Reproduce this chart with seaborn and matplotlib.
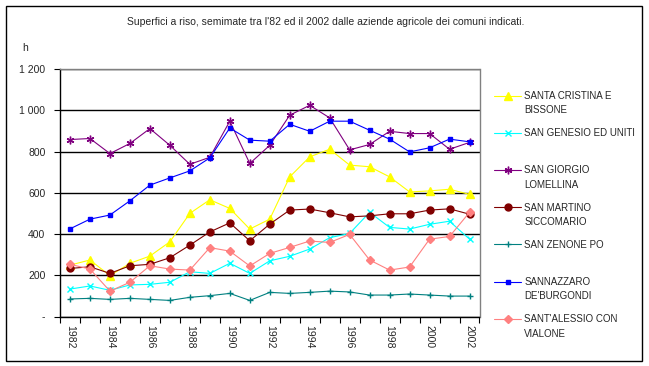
import matplotlib
matplotlib.use("Agg")
import matplotlib.pyplot as plt
import matplotlib.patches as patches
import seaborn as sns
import numpy as np

years = list(range(1982, 2003))

santa_cristina = [249, 274, 198, 258, 293, 362, 500, 566, 524, 424, 472,
                  677, 774, 811, 734, 726, 677, 604, 609, 617, 592]
san_genesio = [133, 148, 127, 153, 156, 166, 217, 209, 258, 209, 270,
               292, 327, 382, 403, 505, 432, 424, 447, 462, 375]
san_giorgio = [858, 863, 790, 839, 911, 830, 738, 772, 947, 742, 830,
               976, 1024, 963, 808, 834, 898, 887, 887, 811, 844]
san_martino = [233, 241, 209, 246, 253, 285, 346, 410, 454, 367, 448,
               516, 521, 503, 483, 488, 498, 498, 516, 522, 496]
san_zenone = [85, 88, 83, 88, 83, 78, 93, 101, 112, 78, 117,
              112, 117, 123, 119, 104, 104, 109, 104, 99, 99]
sannazzaro = [425, 472, 492, 561, 637, 672, 706, 769, 914, 855, 850,
              932, 898, 947, 947, 903, 860, 798, 818, 860, 847]
sant_alessio = [253, 230, 123, 166, 246, 230, 225, 334, 317, 245, 306,
                335, 366, 359, 398, 274, 225, 240, 375, 388, 505]

series = [
    (("SANTA CRISTINA E", "BISSONE"), santa_cristina, "#FFFF00", "^", 5.5),
    (("SAN GENESIO ED UNITI", ""), san_genesio, "#00FFFF", "x", 4),
    (("SAN GIORGIO", "LOMELLINA"), san_giorgio, "#800080", (6, 2, 0), 5.5),
    (("SAN MARTINO", "SICCOMARIO"), san_martino, "#800000", "o", 5),
    (("SAN ZENONE PO", ""), san_zenone, "#008080", "+", 5),
    (("SANNAZZARO", "DE'BURGONDI"), sannazzaro, "#0000FF", "s", 2.3),
    (("SANT'ALESSIO CON", "VIALONE"), sant_alessio, "#FF8080", "D", 4),
]

sns.set_theme(style="white")
plt.rcParams["font.family"] = ["Liberation Sans", "DejaVu Sans"]

W, H = 649, 366
fig = plt.figure(figsize=(W / 100, H / 100), dpi=100)
ax = fig.add_axes([60 / W, 1 - 316.5 / H, 419.5 / W, 247.5 / H])

x = np.arange(len(years))
for (lab, _), vals, color, marker, ms in series:
    sns.lineplot(x=x, y=vals, ax=ax, color=color, marker=marker,
                 markersize=ms, linewidth=0.8, markeredgecolor=color,
                 markeredgewidth=1, label=lab)

handles, _ = ax.get_legend_handles_labels()
ax.get_legend().remove()

ax.set_xlim(-0.5, len(years) - 0.5)
ax.set_ylim(0, 1200)
ax.set_xlabel("")
ax.set_ylabel("")

# x axis: labels every two years, tick marks at category edges
ax.set_xticks(x[::2])
ax.set_xticklabels([str(y) for y in years[::2]], rotation=270,
                   fontsize=7.5, va="top", ha="center")
ax.set_xticks(np.arange(-0.5, len(years)), minor=True)
ax.tick_params(axis="x", which="major", length=0, pad=6)
ax.tick_params(axis="x", which="minor", length=4, width=0.8,
               direction="out", color="black", bottom=True)

yt = np.arange(0, 1201, 200)
ax.set_yticks(yt)
ax.set_yticklabels(["-" if v == 0 else f"{v:,}".replace(",", " ") for v in yt],
                   fontsize=7.5)
ax.tick_params(axis="y", length=4, width=0.8, direction="out",
               color="black", left=True, pad=6.5)

ax.grid(False)
ax.yaxis.grid(True, color="black", linewidth=1)
ax.set_axisbelow(True)
for side in ["left", "bottom"]:
    ax.spines[side].set_color("black")
    ax.spines[side].set_linewidth(1)
for side in ["top", "right"]:
    ax.spines[side].set_color("#808080")
    ax.spines[side].set_linewidth(1)

fig.text(326 / W, 1 - 22 / H,
         "Superfici a riso, semimate tra l'82 ed il 2002 dalle aziende agricole dei comuni indicati.",
         ha="center", va="center", fontsize=7.5)
fig.text(22 / W, 1 - 48 / H, "h", ha="left", va="center", fontsize=7.5)

leg = fig.legend(handles, [s[0][0] for s in series], loc="upper left",
                 bbox_to_anchor=(494 / W, 1 - 91 / H), frameon=False,
                 fontsize=7, handlelength=2.8, handletextpad=0.3,
                 labelspacing=2.8, borderpad=0, borderaxespad=0)

# second line of the two-line labels goes under the first one
fig.canvas.draw()
for txt, s in zip(leg.get_texts(), series):
    if s[0][1]:
        bb = txt.get_window_extent()
        fig.text(bb.x0 / W, (bb.y0 - 14.3) / H, s[0][1], ha="left",
                 va="bottom", fontsize=7)

fig.patches.append(patches.Rectangle((5.5 / W, 1 - 360.5 / H), 636 / W, 355 / H,
                                     transform=fig.transFigure, fill=False,
                                     edgecolor="black", linewidth=1))

fig.savefig("out.png", dpi=100)
